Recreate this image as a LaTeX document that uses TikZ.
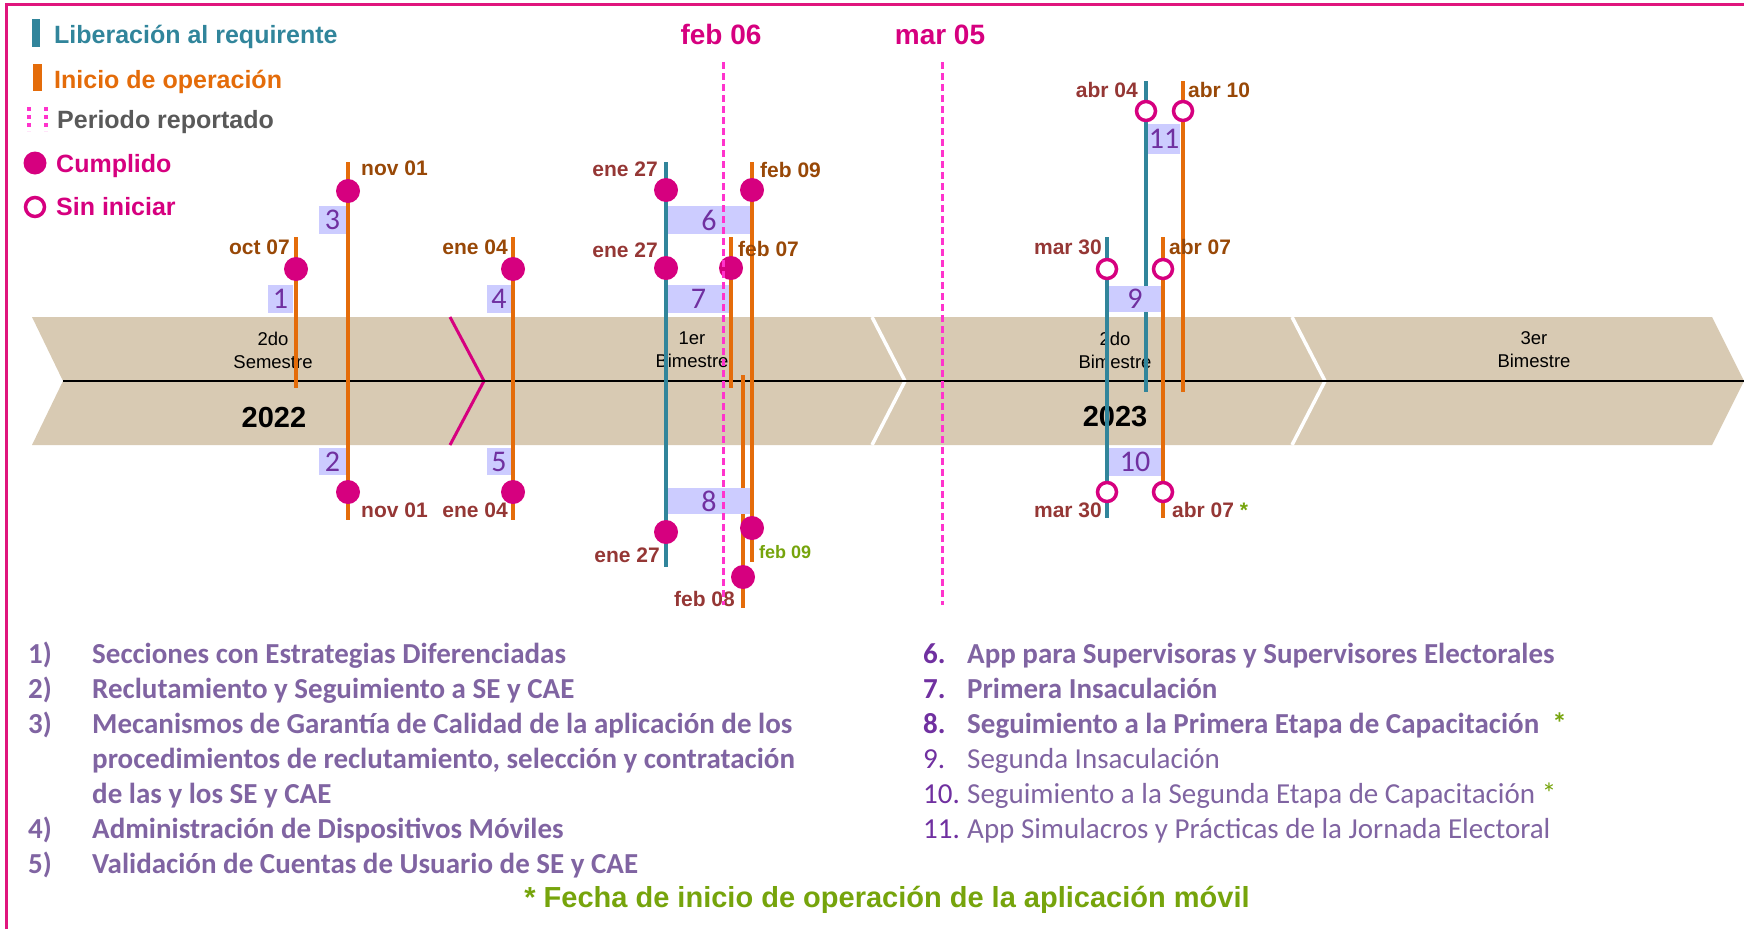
\documentclass[tikz,border=0pt]{standalone}
\usepackage{fontspec}
\setmainfont{Liberation Sans}
\newfontfamily\calibri{Carlito}
\usepackage{xcolor}
\usetikzlibrary{positioning}

\definecolor{relteal}{RGB}{49,133,155}
\definecolor{operorange}{RGB}{228,108,10}
\definecolor{hitpink}{RGB}{214,0,127}
\definecolor{cutpink}{RGB}{255,51,204}
\definecolor{framepink}{RGB}{224,22,125}
\definecolor{bandtan}{RGB}{216,202,179}
\definecolor{boxblue}{RGB}{204,204,255}
\definecolor{numpurple}{RGB}{112,48,160}
\definecolor{listpurple}{RGB}{128,100,162}
\definecolor{datebrown}{RGB}{152,72,7}
\definecolor{datered}{RGB}{149,55,53}
\definecolor{notegreen}{RGB}{118,164,12}
\definecolor{legendgray}{RGB}{89,89,89}

\begin{document}
\begin{tikzpicture}[
    x=1pt, y=-1pt,
    release/.style={draw=relteal, line width=4.5pt},
    operation/.style={draw=operorange, line width=4.5pt},
    done/.style={circle, fill=hitpink, inner sep=0pt, minimum size=24pt},
    pending/.style={circle, draw=hitpink, fill=white, line width=3.5pt, inner sep=0pt, minimum size=19pt},
    tag/.style={fill=boxblue, inner sep=0pt, text=numpurple, font=\calibri\fontsize{30}{30}\selectfont},
    dateop/.style={inner sep=0pt, text=datebrown, font=\bfseries\fontsize{21}{21}\selectfont},
    daterel/.style={inner sep=0pt, text=datered, font=\bfseries\fontsize{21}{21}\selectfont},
    legend/.style={inner sep=0pt, anchor=base west, font=\bfseries\fontsize{25}{25}\selectfont},
    period/.style={inner sep=0pt, align=center, font=\fontsize{18.5}{23}\selectfont},
    year/.style={inner sep=0pt, anchor=base, font=\bfseries\fontsize{29}{29}\selectfont},
    cut/.style={draw=cutpink, line width=3pt, dash pattern=on 7pt off 4pt},
    cutlabel/.style={inner sep=0pt, anchor=base, text=hitpink, font=\bfseries\fontsize{28}{28}\selectfont},
    item/.style={inner sep=0pt, anchor=base west, text=listpurple, font=\calibri\bfseries\fontsize{29}{29}\selectfont},
    itemlight/.style={inner sep=0pt, anchor=base west, text=listpurple, font=\calibri\fontsize{29}{29}\selectfont}
]
\useasboundingbox (0,0) rectangle (1744,929);
\draw[framepink, line width=2.5pt] (6.5,929) -- (6.5,4.5) -- (1744,4.5);

% Legend
\fill[relteal] (32,19) rectangle (40,47);
\node (legrel) [legend, text=relteal] at (54,43) {Liberación al requirente};
\fill[operorange] (33,64) rectangle (42,91);
\node (legop) [legend, text=operorange] at (54,88) {Inicio de operación};
\draw[cutpink, line width=4pt, dash pattern=on 4pt off 4pt] (29,107) -- (29,131);
\draw[cutpink, line width=4pt, dash pattern=on 4pt off 4pt] (46,107) -- (46,131);
\node (legcut) [legend, text=legendgray] at (57,128) {Periodo reportado};
\node (legdone) [done, minimum size=23pt] at (35,163) {};
\node (legdonetxt) [legend, text=hitpink] at (56,172) {Cumplido};
\node (legpend) [pending] at (35,207) {};
\node (legpendtxt) [legend, text=hitpink] at (56,215) {Sin iniciar};

% Band
\fill[bandtan] (32,317) -- (1712,317) -- (1744,381) -- (1712,445) -- (32,445) -- (63,381) -- cycle;
\draw[white, line width=3.5pt] (872,317) -- (905,381) -- (872,445);
\draw[white, line width=3.5pt] (1292,317) -- (1325,381) -- (1292,445);
\draw[hitpink, line width=3pt] (450,317) -- (484,381) -- (450,445);
\draw[black, line width=2pt] (63,381) -- (1744,381);

\node (sem2) [period] at (273,350) {2do\\Semestre};
\node (bim1) [period] at (692,350) {1er\\Bimestre};
\node (bim2) [period] at (1115,350) {2do\\Bimestre};
\node (bim3) [period] at (1534,350) {3er\\Bimestre};
\node (y22) [year] at (274,427) {2022};
\node (y23) [year] at (1115,426) {2023};

% Markers
\draw[operation] (296,237) -- (296,388);
\draw[operation] (348,162) -- (348,520);
\draw[operation] (513,237) -- (513,520);
\draw[release] (666,162) -- (666,567);
\draw[operation] (752,162) -- (752,388);
\draw[operation] (731,237) -- (731,388);
\draw[operation] (752,375) -- (752,562);
\draw[operation] (743,375) -- (743,608);
\draw[release] (1146,81) -- (1146,392);
\draw[operation] (1183,81) -- (1183,392);
\draw[release] (1107,237) -- (1107,518);
\draw[operation] (1163,237) -- (1163,518);

\node (t1) [tag, minimum width=25pt, minimum height=28pt] at (280.5,299) {1};
\node (t2) [tag, minimum width=27pt, minimum height=27pt] at (332.5,461.5) {2};
\node (t3) [tag, minimum width=27pt, minimum height=28pt] at (332.5,220) {3};
\node (t4) [tag, minimum width=24pt, minimum height=28pt] at (499,299) {4};
\node (t5) [tag, minimum width=24pt, minimum height=27pt] at (499,461.5) {5};
\node (t6) [tag, minimum width=82pt, minimum height=28pt] at (709,220) {6};
\node (t7) [tag, minimum width=61pt, minimum height=28pt] at (698.5,299) {7};
\node (t8) [tag, minimum width=82pt, minimum height=26pt] at (709,501) {8};
\node (t9) [tag, minimum width=52pt, minimum height=26pt] at (1135,299) {9};
\node (t10) [tag, minimum width=52pt, minimum height=28pt] at (1135,462) {10};
\node (t11) [tag, minimum width=32pt, minimum height=30pt] at (1164,139) {11};

\node (c1) [done] at (296,269) {};
\node (c3) [done] at (348,191) {};
\node (c2) [done] at (348,492) {};
\node (c4) [done] at (513,269) {};
\node (c5) [done] at (513,492) {};
\node (c6a) [done] at (666,190) {};
\node (c6b) [done] at (752,190) {};
\node (c7a) [done] at (666,268) {};
\node (c7b) [done] at (731,268) {};
\node (c8a) [done] at (666,532) {};
\node (c8b) [done] at (752,528) {};
\node (c8c) [done] at (743,577) {};
\node (c11a) [pending] at (1146,111) {};
\node (c11b) [pending] at (1183,111) {};
\node (c9a) [pending] at (1107,269) {};
\node (c9b) [pending] at (1163,269) {};
\node (c10a) [pending] at (1107,492) {};
\node (c10b) [pending] at (1163,492) {};

% Dates
\node (d1) [dateop, anchor=base east] at (290,254) {oct 07};
\node (d3) [dateop, anchor=base west] at (361,175) {nov 01};
\node (d4) [dateop, anchor=base east] at (508,254) {ene 04};
\node (d2) [daterel, anchor=base west] at (361,517) {nov 01};
\node (d5) [daterel, anchor=base east] at (508,517) {ene 04};
\node (d6a) [daterel, anchor=base east] at (658,176) {ene 27};
\node (d6b) [dateop, anchor=base west] at (760,177) {feb 09};
\node (d7a) [daterel, anchor=base east] at (658,257) {ene 27};
\node (d7b) [dateop, anchor=base west] at (738,256) {feb 07};
\node (d8a) [daterel, anchor=base east] at (660,562) {ene 27};
\node (d8b) [inner sep=0pt, anchor=base west, text=notegreen, font=\bfseries\fontsize{18}{18}\selectfont] at (759,558) {feb 09};
\node (d8c) [daterel, anchor=base east] at (735,606) {feb 08};
\node (d11a) [daterel, anchor=base east] at (1138,97) {abr 04};
\node (d11b) [dateop, anchor=base west] at (1188,97) {abr 10};
\node (d9a) [daterel, anchor=base east] at (1102,254) {mar 30};
\node (d9b) [dateop, anchor=base west] at (1169,254) {abr 07};
\node (d10a) [daterel, anchor=base east] at (1102,517) {mar 30};
\node (d10b) [daterel, anchor=base west] at (1172,517) {abr 07 \textcolor{notegreen}{*}};

% Reported period
\node (feb06) [cutlabel] at (721,44) {feb 06};
\node (mar05) [cutlabel] at (940,44) {mar 05};
\draw[cut] (723,62) -- (723,605);
\draw[cut] (942,62) -- (942,605);

% List
\node (n1) [item] at (28,663) {1)};
\node (i1) [item] at (92,663) {Secciones con Estrategias Diferenciadas};
\node (n2) [item] at (28,698) {2)};
\node (i2) [item] at (92,698) {Reclutamiento y Seguimiento a SE y CAE};
\node (n3) [item] at (28,733) {3)};
\node (i3) [item] at (92,733) {Mecanismos de Garantía de Calidad de la aplicación de los};
\node (i3b) [item] at (92,768) {procedimientos de reclutamiento, selección y contratación};
\node (i3c) [item] at (92,803) {de las y los SE y CAE};
\node (n4) [item] at (28,838) {4)};
\node (i4) [item] at (92,838) {Administración de Dispositivos Móviles};
\node (n5) [item] at (28,873) {5)};
\node (i5) [item] at (92,873) {Validación de Cuentas de Usuario de SE y CAE};

\node (n6) [item, text=numpurple] at (923,663) {6.};
\node (i6) [item] at (967,663) {App para Supervisoras y Supervisores Electorales};
\node (n7) [item, text=numpurple] at (923,698) {7.};
\node (i7) [item] at (967,698) {Primera Insaculación};
\node (n8) [item, text=numpurple] at (923,733) {8.};
\node (i8) [item] at (967,733) {Seguimiento a la Primera Etapa de Capacitación\ \ \textcolor{notegreen}{*}};
\node (n9) [itemlight, text=numpurple] at (923,768) {9.};
\node (i9) [itemlight] at (967,768) {Segunda Insaculación};
\node (n10) [itemlight, text=numpurple] at (923,803) {10.};
\node (i10) [itemlight] at (967,803) {Seguimiento a la Segunda Etapa de Capacitación \textcolor{notegreen}{*}};
\node (n11) [itemlight, text=numpurple] at (923,838) {11.};
\node (i11) [itemlight] at (967,838) {App Simulacros y Prácticas de la Jornada Electoral};

\node (note) [inner sep=0pt, anchor=base, text=notegreen, font=\bfseries\fontsize{29}{29}\selectfont] at (887,907) {* Fecha de inicio de operación de la aplicación móvil};

\end{tikzpicture}
\end{document}
